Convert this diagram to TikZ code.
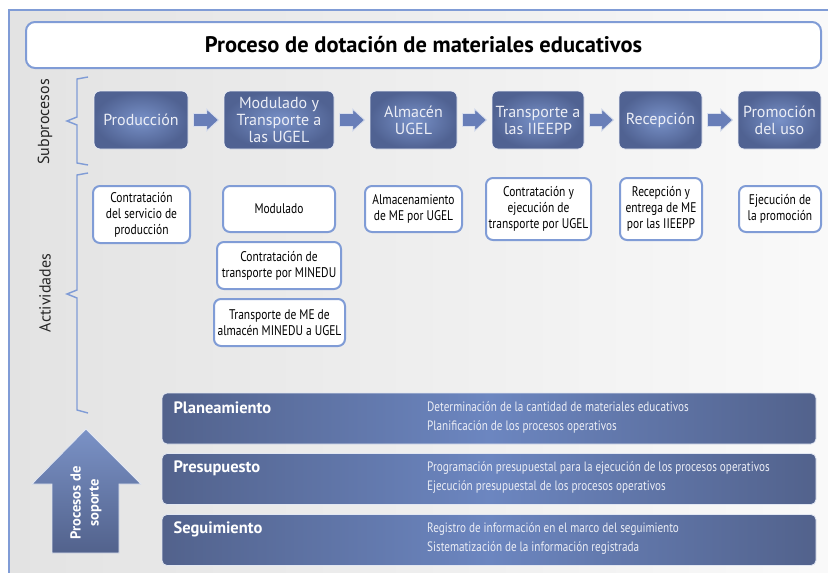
\documentclass[tikz,border=0pt]{standalone}
\usepackage{fontspec}
\setmainfont{PT Sans}
\newfontfamily\condfont[FakeStretch=0.82]{PT Sans}
\usetikzlibrary{calc,shadings}
\definecolor{frameblue}{RGB}{128,156,214}
\definecolor{boxin}{RGB}{120,145,200}
\definecolor{boxout}{RGB}{80,98,146}
\definecolor{arrowc}{RGB}{104,126,184}
\definecolor{bardark}{RGB}{82,98,140}
\definecolor{barlight}{RGB}{108,134,192}
\definecolor{lighttxt}{RGB}{236,238,246}
\tikzset{
  subbox/.style={shade, shading=radial, inner color=boxin, outer color=boxout,
    draw=white!85!boxin, line width=0.8pt, rounded corners=6pt,
    minimum height=58pt, align=center, text=lighttxt,
    font=\fontsize{16}{17}\selectfont, inner sep=2pt},
  actbox/.style={fill=white, draw=frameblue, line width=2pt, rounded corners=7pt,
    align=center, text=black, font=\condfont\fontsize{14}{16}\selectfont, inner sep=1pt},
  barrow/.style={fill=arrowc, draw=white!75!arrowc, line width=0.8pt},
  supbar/.style={left color=bardark, right color=bardark, middle color=barlight,
    draw=white!80!barlight, line width=0.8pt, rounded corners=5pt,
    minimum width=654pt, minimum height=51pt},
  barlabel/.style={anchor=west, text=white, font=\bfseries\fontsize{16.5}{17}\selectfont},
  bartext/.style={anchor=west, align=left, text=lighttxt, inner sep=0pt,
    font=\condfont\fontsize{13.6}{19}\selectfont},
  brace/.style={draw=frameblue, line width=1.4pt},
  sidelabel/.style={rotate=90, font=\fontsize{16}{17}\selectfont, text=black!85}
}
\begin{document}
\begin{tikzpicture}[x=1pt,y=-1pt]
\useasboundingbox (0,0) rectangle (828,573);
\clip (0,0) rectangle (828,573);
\fill[white] (0,0) rectangle (828,573);
\shade[left color=gray!22, right color=gray!4] (9,10) rectangle (850,600);
\draw[frameblue, line width=2pt] (9,10) rectangle (850,600);

% title
\node[fill=white, draw=frameblue, line width=2pt, rounded corners=9pt,
  minimum width=795pt, minimum height=46pt,
  font=\bfseries\fontsize{22.5}{24}\selectfont] (title) at (423.5,45)
  {Proceso de dotación de materiales educativos};

% side labels and braces
\node[sidelabel] (lsub) at (45,122) {Subprocesos};
\node[sidelabel] (lact) at (45,293) {Actividades};
\draw[brace] (88,77) -- (77,79) -- (77,117) -- (67,121) -- (77,125) -- (77,163) -- (88,165);
\draw[brace] (88,173) -- (77,175) -- (77,290) -- (67,294) -- (77,298) -- (77,410) -- (88,413);

% subprocesses
\node[subbox, minimum width=94pt] (p1) at (141,120) {Producción};
\node[subbox, minimum width=110pt] (p2) at (279,120) {Modulado y\\Transporte a\\las UGEL};
\node[subbox, minimum width=87pt] (p3) at (413.5,120) {Almacén\\UGEL};
\node[subbox, minimum width=92pt] (p4) at (538,120) {Transporte a\\las IIEEPP};
\node[subbox, minimum width=83pt] (p5) at (660.5,120) {Recepción};
\node[subbox, minimum width=83pt] (p6) at (779.5,120) {Promoción\\del uso};

\foreach \a/\b in {p1/p2,p2/p3,p3/p4,p4/p5,p5/p6}{
  \draw[barrow] ($(\a.east)+(5,-6.5)$) -- ($(\b.west)+(-17,-6.5)$) -- ($(\b.west)+(-17,-11)$)
    -- ($(\b.west)+(-5,0)$) -- ($(\b.west)+(-17,11)$) -- ($(\b.west)+(-17,6.5)$)
    -- ($(\a.east)+(5,6.5)$) -- cycle;
}

% activities
\node[actbox, minimum width=97pt, minimum height=57pt] (a1) at (141.5,214.5) {Contratación\\del servicio de\\producción};
\node[actbox, minimum width=112pt, minimum height=46pt] (a2) at (279,209) {Modulado};
\node[actbox, minimum width=124pt, minimum height=47pt] (a3) at (279,265.5) {Contratación de\\transporte por MINEDU};
\node[actbox, minimum width=131pt, minimum height=47pt] (a4) at (279.5,322.5) {Transporte de ME de\\almacén MINEDU a UGEL};
\node[actbox, minimum width=97pt, minimum height=46pt] (a5) at (413.5,209) {Almacenamiento\\de ME por UGEL};
\node[actbox, minimum width=105pt, minimum height=62pt] (a6) at (538.5,209) {Contratación y\\ejecución de\\transporte por UGEL};
\node[actbox, minimum width=82pt, minimum height=62pt] (a7) at (661,209) {Recepción y\\entrega de ME\\por las IIEEPP};
\node[actbox, minimum width=82pt, minimum height=46pt] (a8) at (780,209) {Ejecución de\\la promoción};

% support bars
\node[supbar] (b1) at (489,418.5) {};
\node[supbar] (b2) at (489,479) {};
\node[supbar] (b3) at (489,540) {};
\node[barlabel] (l1) at (170,408) {Planeamiento};
\node[barlabel] (l2) at (170,468.5) {Presupuesto};
\node[barlabel] (l3) at (170,529.5) {Seguimiento};
\node[bartext] (t1) at (427,417.5) {Determinación de la cantidad de materiales educativos\\Planificación de los procesos operativos};
\node[bartext] (t2) at (427,478) {Programación presupuestal para la ejecución de los procesos operativos\\Ejecución presupuestal de los procesos operativos};
\node[bartext] (t3) at (427,539) {Registro de información en el marco del seguimiento\\Sistematización de la información registrada};

% support arrow
\shade[top color=barlight!90!white, bottom color=bardark, draw=white!80!barlight, line width=0.8pt]
  (86,429) -- (141,484) -- (119,484) -- (119,553) -- (52,553) -- (52,484) -- (32,484) -- cycle;
\node[rotate=90, align=center, text=white, font=\bfseries\fontsize{14.5}{18}\selectfont] (sup) at (86,503) {Procesos de\\soporte};
\end{tikzpicture}
\end{document}
